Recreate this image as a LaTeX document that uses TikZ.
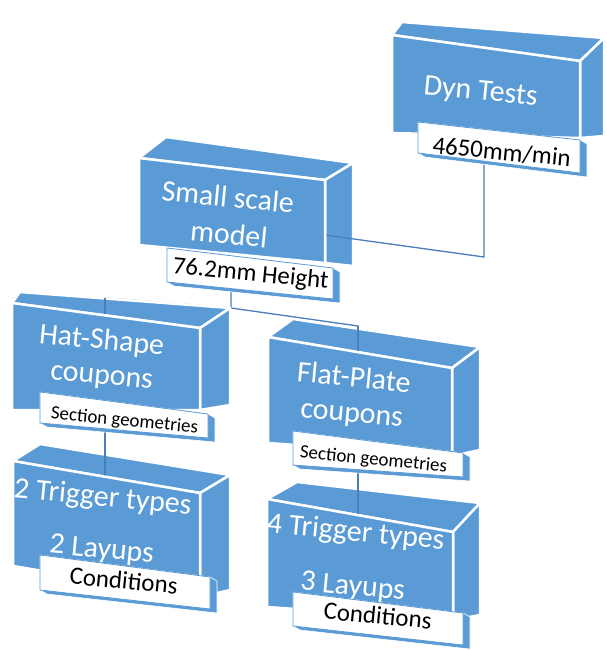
\documentclass[tikz,border=0pt]{standalone}
\usepackage{fontspec}
\setmainfont{Carlito}
\usetikzlibrary{calc}
\definecolor{boxblue}{HTML}{5B9BD5}
\definecolor{linkblue}{HTML}{4A7EBB}

% top and right faces of a block
\newcommand\blockback[1]{%
  \path[face] (#1-ftl) -- (#1-ftr) -- (#1-btr) -- (#1-btl) -- cycle;
  \path[face] (#1-ftr) -- (#1-btr) -- (#1-bbr) -- (#1-fbr) -- cycle;}
% front face of a block
\newcommand\blockfront[1]{%
  \path[face] (#1-ftl) -- (#1-ftr) -- (#1-fbr) -- (#1-fbl) -- cycle;}
% white caption slab with a thin blue edge
\newcommand\captionslab[1]{%
  \path[tagside] (#1-tl) -- (#1-tr) -- ($(#1-tr)+(7,4)$) -- ($(#1-br)+(7,4)$)
     -- ($(#1-bl)+(7,4)$) -- (#1-bl) -- cycle;
  \path[tagfront] (#1-tl) -- (#1-tr) -- (#1-br) -- (#1-bl) -- cycle;}
\newcommand\frontclip[1]{\clip (#1-ftl) -- (#1-ftr) -- (#1-fbr) -- (#1-fbl) -- cycle;}

\begin{document}
\begin{tikzpicture}[x=1bp,y=-1bp,
  face/.style={fill=boxblue, draw=white, line width=2.5bp, line join=round},
  tagfront/.style={fill=white, draw=boxblue, line width=0.8bp},
  tagside/.style={fill=boxblue, draw=white, line width=0.6bp, line join=round},
  link/.style={draw=linkblue, line width=1.3bp},
  big/.style={text=white, font=\fontsize{30}{30}\selectfont, rotate=-5.5, anchor=base, inner sep=0pt},
  tagtext/.style={text=black, font=\fontsize{25}{25}\selectfont, rotate=-5.5, anchor=base, inner sep=0pt},
  smalltag/.style={tagtext, font=\fontsize{19}{19}\selectfont}]

\useasboundingbox (0,0) rectangle (607,650);

% ---- block geometry: front face, back top edge, back right edge
% Dyn Tests
\coordinate (D-ftl) at (392,35);  \coordinate (D-ftr) at (580,61);
\coordinate (D-fbr) at (580,138); \coordinate (D-fbl) at (392,133);
\coordinate (D-btl) at (402,22);  \coordinate (D-btr) at (604,38);
\coordinate (D-bbr) at (604,136);
\coordinate (DL-tl) at (418,122); \coordinate (DL-tr) at (580,140);
\coordinate (DL-br) at (580,173); \coordinate (DL-bl) at (418,153);
% Small scale model
\coordinate (S-ftl) at (139,158); \coordinate (S-ftr) at (325,180);
\coordinate (S-fbr) at (325,263); \coordinate (S-fbl) at (139,245);
\coordinate (S-btl) at (166,137); \coordinate (S-btr) at (353,163);
\coordinate (S-bbr) at (353,266);
\coordinate (SL-tl) at (167,248); \coordinate (SL-tr) at (333,268);
\coordinate (SL-br) at (333,299); \coordinate (SL-bl) at (167,282);
% Hat-Shape coupons
\coordinate (H-ftl) at (12,303);  \coordinate (H-ftr) at (200,328);
\coordinate (H-fbr) at (200,410); \coordinate (H-fbl) at (12,410);
\coordinate (H-btl) at (20,292);  \coordinate (H-btr) at (230,308);
\coordinate (H-bbr) at (230,405);
\coordinate (HL-tl) at (40,392);  \coordinate (HL-tr) at (208,414);
\coordinate (HL-br) at (208,438); \coordinate (HL-bl) at (40,423);
% Flat-Plate coupons
\coordinate (F-ftl) at (268,337); \coordinate (F-ftr) at (452,368);
\coordinate (F-fbr) at (452,456); \coordinate (F-fbl) at (268,443);
\coordinate (F-btl) at (293,319); \coordinate (F-btr) at (480,347);
\coordinate (F-bbr) at (480,450);
\coordinate (FL-tl) at (293,431); \coordinate (FL-tr) at (463,453);
\coordinate (FL-br) at (463,477); \coordinate (FL-bl) at (293,465);
% 2 Trigger types
\coordinate (A-ftl) at (13,461);  \coordinate (A-ftr) at (200,493);
\coordinate (A-fbr) at (200,597); \coordinate (A-fbl) at (13,566);
\coordinate (A-btl) at (40,444);  \coordinate (A-btr) at (230,475);
\coordinate (A-bbr) at (230,590);
\coordinate (AL-tl) at (40,555);  \coordinate (AL-tr) at (210,577);
\coordinate (AL-br) at (210,609); \coordinate (AL-bl) at (40,590);
% 4 Trigger types
\coordinate (B-ftl) at (267,499); \coordinate (B-ftr) at (453,532);
\coordinate (B-fbr) at (453,620); \coordinate (B-fbl) at (267,607);
\coordinate (B-btl) at (297,482); \coordinate (B-btr) at (480,503);
\coordinate (B-bbr) at (480,615);
\coordinate (BL-tl) at (293,592); \coordinate (BL-tr) at (463,613);
\coordinate (BL-br) at (463,645); \coordinate (BL-bl) at (293,626);

% ---- connector points
\coordinate (D-out) at (484,165);  \coordinate (D-bend) at (484,257);
\coordinate (S-in) at (325,235);
\coordinate (S-out) at (231,290);  \coordinate (S-fork) at (231,308);
\coordinate (H-top) at (105,298);  \coordinate (H-in) at (105,317);
\coordinate (F-top) at (358,326);  \coordinate (F-in) at (358,351);
\coordinate (H-out) at (105,432);  \coordinate (A-in) at (105,478);
\coordinate (F-out) at (358,470);  \coordinate (B-in) at (358,517);

% branches running behind the blocks
\draw[link] (S-out) -- (S-fork) -- (H-top) -- (H-in);
\draw[link] (S-fork) -- (F-top) -- (F-in);

% ---- back faces
\blockback{D} \blockback{S} \blockback{H} \blockback{F} \blockback{A} \blockback{B}

% drops seen across the top faces
\draw[link] (H-top) -- (H-in);
\draw[link] (F-top) -- (F-in);
\draw[link] (D-out) -- (D-bend) -- (S-in);
\draw[link] (H-out) -- (A-in);
\draw[link] (F-out) -- (B-in);

% ---- front faces, titles and captions
\blockfront{D}
\begin{scope}\frontclip{D}
  \node[big] (dyn) at (480,100) {Dyn Tests};
\end{scope}
\captionslab{DL}
\node[tagtext] (dynrate) at (501,160) {4650mm/min};

\blockfront{S}
\begin{scope}\frontclip{S}
  \node[big] (small1) at (227,207) {Small scale};
  \node[big] (small2) at (228,244) {model};
\end{scope}
\captionslab{SL}
\node[tagtext] (height) at (250,281) {76.2mm Height};

\blockfront{H}
\begin{scope}\frontclip{H}
  \node[big] (hat1) at (101,349) {Hat-Shape};
  \node[big] (hat2) at (101,384) {coupons};
\end{scope}
\captionslab{HL}
\node[smalltag] (hatsec) at (124,426) {Section geometries};

\blockfront{F}
\begin{scope}\frontclip{F}
  \node[big] (flat1) at (353,387) {Flat-Plate};
  \node[big] (flat2) at (351,422) {coupons};
\end{scope}
\captionslab{FL}
\node[smalltag] (flatsec) at (373,465) {Section geometries};

\blockfront{A}
\begin{scope}\frontclip{A}
  \node[big] (trigA) at (102,506) {2 Trigger types};
  \node[big] (layA) at (101,558) {2 Layups};
\end{scope}
\captionslab{AL}
\node[tagtext] (condA) at (123,589) {Conditions};

\blockfront{B}
\begin{scope}\frontclip{B}
  \node[big] (trigB) at (355,541) {4 Trigger types};
  \node[big] (layB) at (352,595) {3 Layups};
\end{scope}
\captionslab{BL}
\node[tagtext] (condB) at (377,624) {Conditions};
\end{tikzpicture}
\end{document}
